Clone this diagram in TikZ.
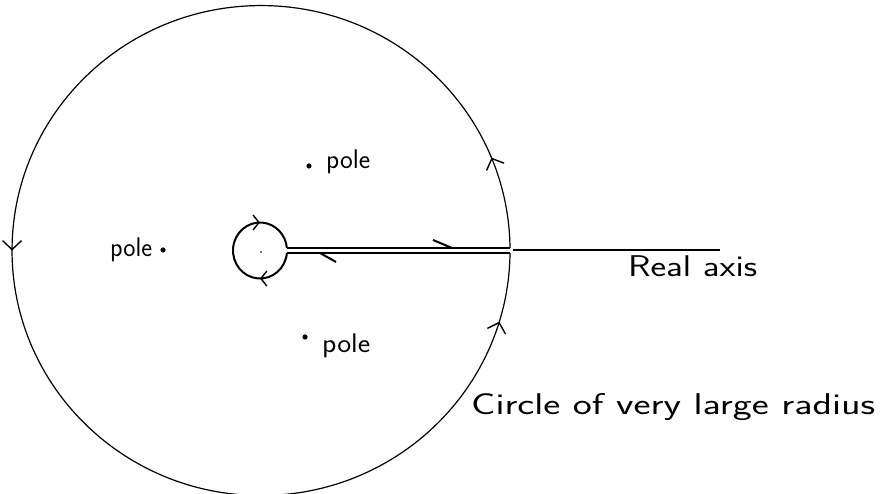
\documentclass[tikz,border=0pt]{standalone}
\usetikzlibrary{arrows.meta,decorations.markings}
\begin{document}
\begin{tikzpicture}[x=1pt,y=1pt,
  bigline/.style={line width=1.2pt},
  keyline/.style={line width=2pt},
  chev/.style={line width=1.4pt},
  bigtip/.style={},
  lbl/.style={inner sep=0pt, font=\sffamily\fontsize{27}{32}\selectfont},
  bigtxt/.style={inner sep=0pt, font=\sffamily\fontsize{30}{36}\selectfont},
  poledot/.style={fill=black}]
\useasboundingbox (0,0) rectangle (886,494);
% large circle (open at the cut)
\draw[bigline] (510,246) arc[start angle=0.6, end angle=359.4, x radius=249, y radius=245];
% arrowheads on large circle
\path[decoration={markings,
  mark=at position 0.06 with {\arrow[chev]{Straight Barb[length=9pt,width=19pt]}},
  mark=at position 0.5 with {\arrow[chev]{Straight Barb[length=9pt,width=19pt]}},
  mark=at position 0.955 with {\arrow[chev]{Straight Barb[length=9pt,width=19pt]}}}, decorate]
  (510,246) arc[start angle=0.6, end angle=359.4, x radius=249, y radius=245];
% keyhole lines
\coordinate (uin) at (286.9,246);
\coordinate (uout) at (510,246);
\coordinate (lin) at (286.9,241);
\coordinate (lout) at (510,241);
\draw[keyline] (uin) -- (uout);
\draw[keyline] (lin) -- (lout);
% small circle
\draw[keyline] (lin) arc[start angle=-5.1, end angle=-354.9, x radius=27, y radius=28];
\path[decoration={markings,
  mark=at position 0.243 with {\arrow[chev]{Straight Barb[length=6pt,width=15pt]}},
  mark=at position 0.757 with {\arrow[chev]{Straight Barb[length=6pt,width=15pt]}}}, decorate]
  (lin) arc[start angle=-5.1, end angle=-354.9, x radius=27, y radius=28];
\fill (261,242) circle (0.9);
% half arrows on keyhole lines
\draw[keyline] (452,246) -- (433,254);
\draw[keyline] (320,241) -- (336,232);
% real axis
\coordinate (ra1) at (513,244);
\coordinate (ra2) at (720,244);
\draw[bigline] (ra1) -- (ra2);
% poles
\fill[poledot] (309,328) circle (2.6);
\node[lbl, anchor=base west] (p1) at (326,325) {\resizebox{44pt}{\height}{pole}};
\fill[poledot] (305,157) circle (2.6);
\node[lbl, anchor=base west] (p3) at (322,141) {\resizebox{48pt}{\height}{pole}};
\fill[poledot] (163,244) circle (2.6);
\node[lbl, anchor=base west] (p2) at (110,237) {\resizebox{42pt}{\height}{pole}};
% labels
\node[bigtxt, anchor=base west] (real) at (628,217) {\resizebox{129pt}{\height}{Real axis}};
\node[bigtxt, anchor=base west] (circ) at (471,79) {\resizebox{404pt}{\height}{Circle of very large radius}};
\end{tikzpicture}
\end{document}
